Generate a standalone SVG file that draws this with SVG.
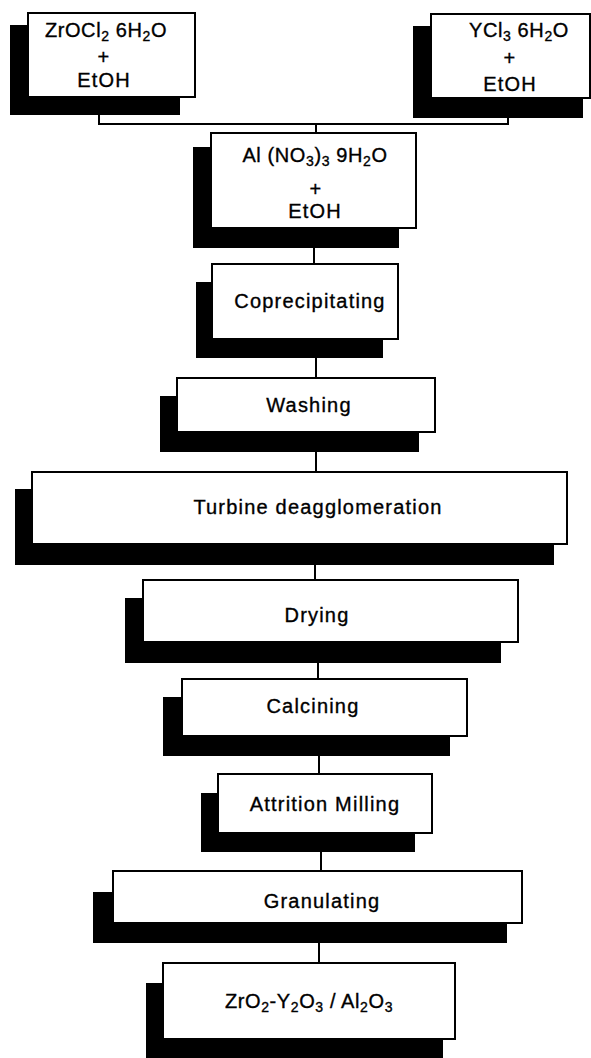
<svg xmlns="http://www.w3.org/2000/svg" width="591" height="1058" viewBox="0 0 591 1058">
<style>
.sh{fill:#000}
.bx{fill:#fff;stroke:#000;stroke-width:2}
.t{font-family:"Liberation Sans",Arial,sans-serif;font-size:20px;letter-spacing:1.2px;text-anchor:middle;fill:#000;stroke:#000;stroke-width:0.35px}
.f{letter-spacing:0.6px}
.s{font-size:14px}
.c{stroke:#000;stroke-width:2;fill:none}
</style>
<rect width="591" height="1058" fill="#fff"/>
<g id="connectors">
<path class="c" d="M99 115V124H508V118M316 124V133"/>
<path class="c" d="M314 248V264"/>
<path class="c" d="M316 358V378"/>
<path class="c" d="M316 452V472"/>
<path class="c" d="M315 565V580"/>
<path class="c" d="M318 663V679"/>
<path class="c" d="M319 756V774"/>
<path class="c" d="M321 852V871"/>
<path class="c" d="M319 943V963"/>
</g>
<g id="zrocl2">
<rect class="sh" x="10" y="25" width="170" height="90"/>
<rect class="bx" x="28" y="13" width="167" height="84"/>
<text class="t f" x="106" y="37">ZrOCl<tspan class="s" dy="4">2</tspan><tspan dy="-4"> 6H</tspan><tspan class="s" dy="4">2</tspan><tspan dy="-4">O</tspan></text>
<text class="t" x="104" y="64">+</text>
<text class="t" x="104" y="87">EtOH</text>
</g>
<g id="ycl3">
<rect class="sh" x="413" y="26" width="170" height="92"/>
<rect class="bx" x="431" y="14" width="159" height="84"/>
<text class="t f" x="519" y="37">YCl<tspan class="s" dy="4">3</tspan><tspan dy="-4"> 6H</tspan><tspan class="s" dy="4">2</tspan><tspan dy="-4">O</tspan></text>
<text class="t" x="510" y="65">+</text>
<text class="t" x="510" y="91">EtOH</text>
</g>
<g id="alno3">
<rect class="sh" x="193" y="147" width="206" height="101"/>
<rect class="bx" x="211" y="133" width="205" height="95"/>
<text class="t f" x="315" y="162">Al (NO<tspan class="s" dy="4">3</tspan><tspan dy="-4">)</tspan><tspan class="s" dy="4">3</tspan><tspan dy="-4"> 9H</tspan><tspan class="s" dy="4">2</tspan><tspan dy="-4">O</tspan></text>
<text class="t" x="316" y="196">+</text>
<text class="t" x="315" y="218">EtOH</text>
</g>
<g id="coprecipitating">
<rect class="sh" x="196" y="282" width="187" height="76"/>
<rect class="bx" x="212" y="264" width="186" height="75"/>
<text class="t" x="310" y="308">Coprecipitating</text>
</g>
<g id="washing">
<rect class="sh" x="160" y="396" width="259" height="56"/>
<rect class="bx" x="177" y="378" width="258" height="54"/>
<text class="t" x="309" y="412">Washing</text>
</g>
<g id="turbine">
<rect class="sh" x="15" y="489" width="539" height="76"/>
<rect class="bx" x="32" y="472" width="535" height="72"/>
<text class="t" x="318" y="514">Turbine deagglomeration</text>
</g>
<g id="drying">
<rect class="sh" x="125" y="598" width="376" height="65"/>
<rect class="bx" x="143" y="580" width="375" height="62"/>
<text class="t" x="317" y="622">Drying</text>
</g>
<g id="calcining">
<rect class="sh" x="163" y="697" width="287" height="59"/>
<rect class="bx" x="182" y="679" width="285" height="57"/>
<text class="t" x="313" y="713">Calcining</text>
</g>
<g id="attrition">
<rect class="sh" x="201" y="793" width="214" height="59"/>
<rect class="bx" x="218" y="774" width="214" height="59"/>
<text class="t" x="325" y="811">Attrition Milling</text>
</g>
<g id="granulating">
<rect class="sh" x="93" y="892" width="414" height="51"/>
<rect class="bx" x="113" y="871" width="409" height="52"/>
<text class="t" x="322" y="908">Granulating</text>
</g>
<g id="product">
<rect class="sh" x="146" y="983" width="297" height="77"/>
<rect class="bx" x="163" y="963" width="292" height="76"/>
<text class="t f" x="309" y="1008">ZrO<tspan class="s" dy="4">2</tspan><tspan dy="-4">-Y</tspan><tspan class="s" dy="4">2</tspan><tspan dy="-4">O</tspan><tspan class="s" dy="4">3</tspan><tspan dy="-4"> / Al</tspan><tspan class="s" dy="4">2</tspan><tspan dy="-4">O</tspan><tspan class="s" dy="4">3</tspan></text>
</g>
</svg>
